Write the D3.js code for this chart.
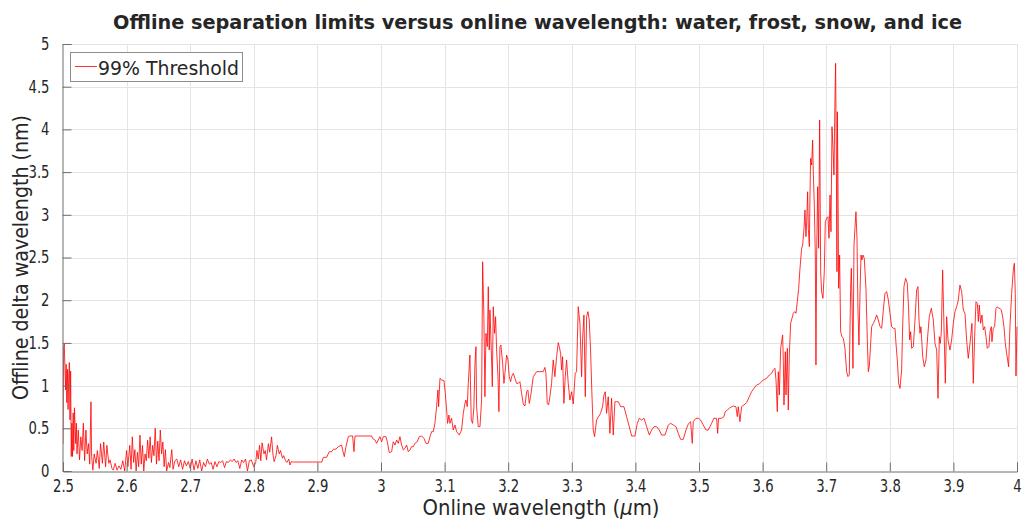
<!DOCTYPE html>
<html>
<head>
<meta charset="utf-8">
<script src="https://cdn.jsdelivr.net/npm/d3@7"></script>
<style>
  body { margin: 0; background: #fff; }
  text { font-family: "DejaVu Sans", Verdana, sans-serif; fill: #262626; }
</style>
</head>
<body>
<script>
var width = 1022,
    height = 521;

// online wavelength (um) / offline delta wavelength (nm)
var wavelength = [
  2.500, 2.501, 2.502, 2.503, 2.504, 2.505, 2.506, 2.507, 2.508, 2.509,
  2.510, 2.511, 2.512, 2.513, 2.514, 2.515, 2.516, 2.517, 2.518, 2.520,
  2.521, 2.522, 2.524, 2.526, 2.528, 2.530, 2.532, 2.534, 2.536, 2.538,
  2.540, 2.542, 2.544, 2.545, 2.547, 2.549, 2.552, 2.554, 2.557, 2.559,
  2.562, 2.564, 2.567, 2.569, 2.572, 2.574, 2.577, 2.579, 2.582, 2.585,
  2.588, 2.591, 2.594, 2.597, 2.600,
  2.602, 2.605, 2.607, 2.609, 2.611, 2.613, 2.615, 2.617, 2.619, 2.621,
  2.623, 2.625, 2.627, 2.629, 2.631, 2.633, 2.635, 2.637, 2.639, 2.641,
  2.643, 2.645, 2.647, 2.649, 2.651, 2.653, 2.655, 2.657, 2.659, 2.661,
  2.663, 2.666, 2.668, 2.671, 2.673, 2.676, 2.679, 2.682, 2.685, 2.688,
  2.691, 2.694, 2.697, 2.700,
  2.703, 2.706, 2.709, 2.712, 2.715, 2.718, 2.721, 2.724, 2.727, 2.730,
  2.733, 2.736, 2.739, 2.742, 2.745, 2.748, 2.751, 2.754, 2.757, 2.760,
  2.763, 2.766, 2.769, 2.772, 2.775, 2.778, 2.781, 2.784, 2.787, 2.790,
  2.793, 2.796,
  2.800, 2.803, 2.805, 2.807, 2.809, 2.811, 2.813, 2.816, 2.818, 2.820,
  2.823, 2.825, 2.828, 2.830, 2.832, 2.835, 2.837, 2.840, 2.842, 2.845,
  2.847, 2.850, 2.852, 2.855, 2.857, 2.859, 2.862, 2.8900, 2.9070,
  2.9093, 2.9145, 2.9187, 2.9224, 2.9250, 2.9292, 2.9329, 2.9381, 2.9397, 2.9423,
  2.9449, 2.9486, 2.9512, 2.9554, 2.9575, 2.9591, 2.9774, 2.9853, 2.9868, 2.9905,
  2.9931, 2.9957, 2.9984, 3.0010, 3.0036, 3.0078, 3.0099, 3.0130, 3.0167, 3.0193,
  3.0220, 3.0246, 3.0272, 3.0298, 3.0324, 3.0351, 3.0377, 3.0403, 3.0429, 3.0455,
  3.0481, 3.0508, 3.0534, 3.0570, 3.0602, 3.0639, 3.0675, 3.0707, 3.0743, 3.0770,
  3.0796, 3.0822, 3.0848, 3.0874, 3.0895, 3.0906, 3.0927, 3.0953, 3.0990, 3.1011,
  3.1032, 3.1047, 3.1068, 3.1084, 3.1110, 3.1136, 3.1163, 3.1189, 3.1231, 3.1267,
  3.1294, 3.1320, 3.1335, 3.1356, 3.1372, 3.1398, 3.1419, 3.1440, 3.1461, 3.1477,
  3.1493, 3.1503, 3.1529, 3.1556, 3.1582, 3.1598, 3.1618, 3.1634, 3.1650, 3.1671,
  3.1687, 3.1702, 3.1713, 3.1734, 3.1750, 3.1765, 3.1786, 3.1802, 3.1818, 3.1839,
  3.1854, 3.1870, 3.1886, 3.1912, 3.1933, 3.1949, 3.1975, 3.1996, 3.2017, 3.2038,
  3.2053, 3.2080, 3.2106, 3.2132, 3.2158, 3.2184, 3.2211, 3.2237, 3.2263, 3.2289,
  3.2310, 3.2331, 3.2352, 3.2394, 3.2446, 3.2551, 3.2577, 3.2593, 3.2614, 3.2635,
  3.2656, 3.2682, 3.2708, 3.2734, 3.2761, 3.2787, 3.2803, 3.2824, 3.2839, 3.2855,
  3.2876, 3.2897, 3.2918, 3.2944, 3.2970, 3.2997, 3.3023, 3.3054, 3.3075, 3.3101,
  3.3128, 3.3154, 3.3170, 3.3191, 3.3212, 3.3233, 3.3254, 3.3274, 3.3295, 3.3316,
  3.3337, 3.3358, 3.3390, 3.3421, 3.3452, 3.3484, 3.3505, 3.3526, 3.3547, 3.3573,
  3.3599, 3.3625, 3.3652, 3.3678, 3.3704,
  3.3731, 3.3768, 3.3820, 3.3862, 3.3904, 3.3941, 3.3993, 3.4030, 3.4061, 3.4098,
  3.4135, 3.4177, 3.4219, 3.4255, 3.4292, 3.4334, 3.4376, 3.4412, 3.4465, 3.4517,
  3.4554, 3.4596, 3.4638, 3.4674, 3.4711, 3.4753, 3.4795, 3.4832, 3.4868, 3.4894,
  3.4910, 3.4952, 3.4989, 3.5025, 3.5067, 3.5109, 3.5146, 3.5172, 3.5198, 3.5235,
  3.5277, 3.5293, 3.5308, 3.5356, 3.5392, 3.5413, 3.5445, 3.5476, 3.5513, 3.5539,
  3.5581, 3.5602, 3.5618, 3.5644, 3.5670, 3.5707, 3.5749, 3.5791, 3.5827, 3.5864,
  3.5906, 3.5948,
  3.6011, 3.6064, 3.6106, 3.6142, 3.6169, 3.6195, 3.6211, 3.6231, 3.6247, 3.6263,
  3.6284, 3.6315, 3.6326, 3.6336, 3.6357, 3.6368, 3.6389, 3.6404, 3.6420, 3.6441,
  3.6462, 3.6483, 3.6504, 3.6525, 3.6546, 3.6567, 3.6588, 3.6614, 3.6630, 3.6651,
  3.6666, 3.6682, 3.6693, 3.6708, 3.6719, 3.6735, 3.6745, 3.6755, 3.6771, 3.6787,
  3.6797, 3.6813, 3.6829, 3.6839, 3.6850, 3.6866, 3.6881, 3.6897, 3.6913, 3.6928,
  3.6949, 3.6970, 3.6986, 3.7007, 3.7028, 3.7044, 3.7060, 3.7075, 3.7091, 3.7107,
  3.7122, 3.7138, 3.7148, 3.7159, 3.7169, 3.7175, 3.7185, 3.7196, 3.7211, 3.7227,
  3.7248, 3.7269, 3.7295, 3.7321, 3.7342, 3.7363, 3.7384, 3.7395, 3.7410, 3.7421,
  3.7437, 3.7452, 3.7468, 3.7484, 3.7499, 3.7515, 3.7531, 3.7547, 3.7562, 3.7578,
  3.7599, 3.7625, 3.7646, 3.7662,
  3.7678, 3.7699, 3.7715, 3.7741, 3.7767, 3.7793, 3.7820, 3.7846, 3.7872, 3.7898,
  3.7924, 3.7951, 3.7977, 3.8003, 3.8029, 3.8055, 3.8082, 3.8097, 3.8118, 3.8139,
  3.8160, 3.8186, 3.8202, 3.8223, 3.8249, 3.8275, 3.8296, 3.8312, 3.8328, 3.8344,
  3.8370, 3.8396, 3.8422, 3.8443, 3.8459, 3.8475, 3.8490, 3.8517, 3.8543, 3.8569,
  3.8595, 3.8621, 3.8653, 3.8684, 3.8710, 3.8737, 3.8758, 3.8779, 3.8794, 3.8810,
  3.8831, 3.8852, 3.8873, 3.8894, 3.8915, 3.8946, 3.8972, 3.8999, 3.9025, 3.9051,
  3.9077, 3.9103, 3.9130, 3.9156, 3.9182, 3.9208, 3.9234, 3.9261, 3.9292, 3.9313,
  3.9334, 3.9355, 3.9376, 3.9392, 3.9407, 3.9428, 3.9449, 3.9470, 3.9491, 3.9512,
  3.9533, 3.9559, 3.9575, 3.9596, 3.9606, 3.9627, 3.9648, 3.9669, 3.9690, 3.9711,
  3.9732, 3.9753, 3.9774, 3.9795, 3.9816, 3.9837, 3.9853, 3.9868, 3.9889, 3.9916,
  3.9942, 3.9958, 3.9973, 3.9984, 4.0000
];

var offlineDelta = [
  0.32, 1.45, 1.49, 1.22, 0.95, 1.25, 0.80, 1.19, 0.72, 1.11,
  1.27, 0.60, 1.17, 0.17, 0.56, 0.17, 0.68, 0.24, 0.74, 0.32,
  0.56, 0.20, 0.48, 0.13, 0.40, 0.24, 0.56, 0.12, 0.48, 0.20,
  0.32, 0.08, 0.81, 0.17, 0.01, 0.20, 0.09, 0.24, 0.03, 0.32,
  0.09, 0.34, 0.05, 0.30, 0.09, 0.13, 0.03, 0.01, 0.09, 0.01,
  0.06, 0.02, 0.12, 0.00, 0.24,
  0.05, 0.30, 0.02, 0.40, 0.10, 0.25, 0.00, 0.22, 0.05, 0.42,
  0.08, 0.30, 0.00, 0.20, 0.12, 0.36, 0.15, 0.40, 0.10, 0.30,
  0.18, 0.50, 0.08, 0.35, 0.12, 0.48, 0.20, 0.34, 0.05, 0.25,
  0.00, 0.10, 0.04, 0.25, 0.02, 0.12, 0.14, 0.05, 0.13, 0.02,
  0.12, 0.06, 0.11, 0.03,
  0.14, 0.01, 0.12, 0.03, 0.13, 0.00, 0.10, 0.05, 0.14, 0.08,
  0.10, 0.02, 0.11, 0.05, 0.11, 0.10, 0.12, 0.04, 0.11, 0.10,
  0.13, 0.11, 0.14, 0.10, 0.12, 0.03, 0.13, 0.10, 0.14, 0.00,
  0.12, 0.13,
  0.05, 0.10, 0.24, 0.14, 0.30, 0.12, 0.33, 0.20, 0.24, 0.13,
  0.32, 0.22, 0.40, 0.20, 0.11, 0.18, 0.30, 0.20, 0.24, 0.15,
  0.18, 0.12, 0.10, 0.14, 0.07, 0.11, 0.105, 0.105, 0.105,
  0.160, 0.160, 0.226, 0.226, 0.253, 0.257, 0.285, 0.304, 0.246, 0.168,
  0.285, 0.402, 0.410, 0.410, 0.226, 0.410, 0.410, 0.410, 0.382, 0.363,
  0.324, 0.363, 0.402, 0.343, 0.402, 0.402, 0.343, 0.215, 0.226, 0.343,
  0.304, 0.363, 0.324, 0.402, 0.304, 0.246, 0.265, 0.304, 0.226, 0.246,
  0.285, 0.285, 0.324, 0.343, 0.402, 0.410, 0.382, 0.324, 0.324, 0.402,
  0.461, 0.461, 0.558, 0.753, 0.948, 0.753, 1.085, 1.066, 1.058, 0.909,
  0.714, 0.558, 0.656, 0.558, 0.617, 0.480, 0.538, 0.461, 0.421, 0.480,
  0.675, 0.792, 0.831, 0.753, 1.026, 1.358, 0.597, 0.558, 0.753, 1.241,
  1.456, 0.753, 0.519, 0.519, 0.831, 2.451, 1.807, 0.870, 1.612, 1.456,
  2.158, 1.417, 1.885, 1.417, 0.987, 1.924, 1.612, 1.807, 1.417, 1.104,
  0.695, 1.456, 1.475, 1.261, 1.026, 1.144, 1.358, 1.300, 1.104, 1.046,
  1.104, 1.144, 1.085, 1.026, 1.026, 1.046, 0.909, 0.785, 0.761, 0.928,
  0.948, 0.792, 0.870, 1.104, 1.163, 1.163, 1.213, 1.144, 0.792, 0.773,
  0.870, 1.026, 1.300, 1.104, 1.339, 1.503, 1.456, 1.378, 1.183, 1.339,
  0.792, 1.104, 1.300, 1.026, 0.831, 0.928, 0.785, 1.144, 1.163, 1.924,
  1.729, 1.104, 1.553, 1.827, 0.870, 1.807, 1.866, 1.768, 1.417, 0.909,
  0.480, 0.402, 0.597, 0.636, 0.675, 0.753, 0.889, 0.928, 0.675, 0.870,
  0.441, 0.851, 0.421, 0.811, 0.811,
  0.812, 0.753, 0.753, 0.636, 0.519, 0.410, 0.410, 0.558, 0.617, 0.597,
  0.617, 0.519, 0.421, 0.480, 0.519, 0.519, 0.480, 0.421, 0.421, 0.538,
  0.558, 0.538, 0.519, 0.441, 0.371, 0.371, 0.480, 0.550, 0.578, 0.324,
  0.578, 0.617, 0.617, 0.597, 0.538, 0.480, 0.480, 0.519, 0.558, 0.617,
  0.617, 0.441, 0.617, 0.617, 0.636, 0.695, 0.714, 0.734, 0.753, 0.761,
  0.753, 0.636, 0.753, 0.578, 0.753, 0.773, 0.800, 0.870, 0.929, 0.968,
  1.007, 1.019,
  1.066, 1.085, 1.124, 1.144, 1.183, 1.202, 1.066, 0.695, 1.163, 0.890,
  1.437, 1.593, 1.280, 0.773, 1.397, 0.890, 1.437, 0.714, 1.358, 1.729,
  1.788, 1.847, 1.866, 1.847, 1.983, 2.139, 2.373, 2.608, 2.646, 2.841,
  3.056, 2.744, 2.919, 3.270, 2.841, 2.627, 3.232, 3.661, 3.583, 3.876,
  3.505, 3.115, 2.529, 1.241, 2.529, 3.329, 2.608, 4.110, 2.334, 2.100,
  2.022, 2.334, 2.919, 2.959, 2.978, 2.725, 3.232, 2.802, 4.032, 3.779,
  3.466, 4.364, 4.774, 3.700, 2.334, 4.207, 3.466, 2.139, 2.529, 1.631,
  1.573, 1.554, 1.437, 1.163, 1.105, 1.124, 2.139, 2.373, 1.827, 1.202,
  2.646, 2.841, 3.036, 2.725, 1.905, 1.475, 2.061, 2.529, 2.471, 2.529,
  2.490, 2.139, 1.554, 1.163,
  1.221, 1.495, 1.690, 1.729, 1.768, 1.827, 1.768, 1.690, 1.671, 1.885,
  2.081, 2.100, 2.002, 1.846, 1.690, 1.671, 1.671, 1.495, 1.300, 1.027,
  0.968, 1.183, 1.690, 2.159, 2.256, 2.198, 1.885, 1.534, 1.631, 1.436,
  1.456, 1.768, 2.119, 2.159, 1.768, 1.612, 1.690, 1.339, 1.221, 1.300,
  1.573, 1.807, 1.905, 1.768, 1.495, 1.417, 0.851, 1.573, 1.495, 1.631,
  2.354, 1.690, 1.027, 1.807, 1.534, 1.417, 1.534, 1.729, 1.866, 1.924,
  2.002, 2.178, 2.100, 1.885, 1.846, 1.534, 1.319, 1.495, 1.729, 1.027,
  1.573, 1.983, 1.963, 1.749, 1.944, 1.729, 1.827, 1.651, 1.690, 1.573,
  1.436, 1.456, 1.631, 1.690, 1.514, 1.671, 1.690, 1.905, 1.924, 1.905,
  1.905, 1.885, 1.807, 1.690, 1.495, 1.378, 1.300, 1.221, 1.690, 2.081,
  2.354, 2.432, 2.081, 1.112, 1.690
];

var xTicks = [2.5, 2.6, 2.7, 2.8, 2.9, 3, 3.1, 3.2, 3.3, 3.4, 3.5, 3.6, 3.7, 3.8, 3.9, 4];
var yTicks = [0, 0.5, 1, 1.5, 2, 2.5, 3, 3.5, 4, 4.5, 5];
var seriesName = '99% Threshold';

var plotLeft = 63, plotRight = 1017, plotTop = 44, plotBottom = 471;

var x = d3.scaleLinear().domain([2.5, 4]).range([plotLeft, plotRight]);
var y = d3.scaleLinear().domain([0, 5]).range([plotBottom, plotTop]);

var svg = d3.select('body').append('svg')
    .attr('width', width)
    .attr('height', height);

// stretch/squeeze a text node to a given width
function fitWidth(node, w) {
    node.setAttribute('textLength', w);
    node.setAttribute('lengthAdjust', 'spacingAndGlyphs');
}

// grid
svg.append('g').selectAll('line')
    .data(xTicks.slice(1))
    .enter().append('line')
    .attr('x1', d => Math.round(x(d)) + 0.5).attr('x2', d => Math.round(x(d)) + 0.5)
    .attr('y1', plotTop).attr('y2', plotBottom)
    .attr('stroke', '#e4e4e4').attr('stroke-width', 1);

svg.append('g').selectAll('line')
    .data(yTicks.slice(1))
    .enter().append('line')
    .attr('y1', d => Math.round(y(d)) + 0.5).attr('y2', d => Math.round(y(d)) + 0.5)
    .attr('x1', plotLeft).attr('x2', plotRight)
    .attr('stroke', '#e4e4e4').attr('stroke-width', 1);

// data line
svg.append('defs').append('clipPath').attr('id', 'plotclip')
    .append('rect').attr('x', plotLeft).attr('y', plotTop - 2)
    .attr('width', plotRight - plotLeft + 1).attr('height', plotBottom - plotTop + 2);

var pts = wavelength.map((w, i) => [w, offlineDelta[i]]);
svg.append('path')
    .datum(pts)
    .attr('clip-path', 'url(#plotclip)')
    .attr('fill', 'none')
    .attr('stroke', '#ff0000')
    .attr('stroke-width', 0.8)
    .attr('stroke-linejoin', 'round')
    .attr('d', d3.line().x(d => x(d[0])).y(d => y(d[1])));

// axes
var xAxis = svg.append('g')
    .attr('transform', 'translate(0,' + (plotBottom + 0.5) + ')')
    .call(d3.axisBottom(x).tickValues(xTicks).tickSize(-9).tickPadding(17).tickFormat(d3.format('')));
var yAxis = svg.append('g')
    .attr('transform', 'translate(' + (plotLeft - 0.5) + ',0)')
    .call(d3.axisLeft(y).tickValues(yTicks).tickSize(-9).tickPadding(13).tickFormat(d3.format('')));

[xAxis, yAxis].forEach(function (a) {
    a.select('.domain').attr('stroke', '#6e6e6e');
    a.selectAll('.tick line').attr('stroke', '#6e6e6e');
    a.selectAll('text')
        .style('font-family', '"DejaVu Sans", sans-serif')
        .style('font-size', '17px')
        .attr('fill', '#262626');
});
xAxis.selectAll('text').attr('dy', '0.2em');

// squeeze tick labels like the reference
var probe = yAxis.selectAll('text').filter(d => d === 4.5).node();
var squeeze = 21 / probe.getComputedTextLength();
svg.selectAll('.tick text').each(function () {
    fitWidth(this, this.getComputedTextLength() * squeeze);
});

// title
var title = svg.append('text')
    .attr('x', 537.5).attr('y', 29)
    .attr('text-anchor', 'middle')
    .style('font-size', '20px')
    .style('font-weight', 'bold')
    .attr('fill', '#000')
    .text('Offline separation limits versus online wavelength:  water,  frost,  snow,  and ice');
fitWidth(title.node(), 849);

// axis labels
var xl = svg.append('text')
    .attr('x', 541).attr('y', 515)
    .attr('text-anchor', 'middle')
    .style('font-size', '21px')
    .attr('fill', '#262626');
xl.append('tspan').text('Online wavelength (');
xl.append('tspan').style('font-style', 'italic').text('\u03bc');
xl.append('tspan').text('m)');
fitWidth(xl.node(), 237);

var yl = svg.append('text')
    .attr('transform', 'translate(28,257.5) rotate(-90)')
    .attr('text-anchor', 'middle')
    .style('font-size', '21px')
    .attr('fill', '#262626')
    .text('Offline delta wavelength (nm)');
fitWidth(yl.node(), 285);

// legend
var lg = svg.append('g');
lg.append('rect')
    .attr('x', 70.5).attr('y', 52.5)
    .attr('width', 172).attr('height', 29)
    .attr('fill', '#fff').attr('stroke', '#8c8c8c').attr('stroke-width', 1);
lg.append('line')
    .attr('x1', 75).attr('x2', 97).attr('y1', 66.5).attr('y2', 66.5)
    .attr('stroke', '#ff0000').attr('stroke-width', 0.8);
var lt = lg.append('text')
    .attr('x', 98).attr('y', 74.5)
    .style('font-size', '19px')
    .attr('fill', '#000')
    .text(seriesName);
fitWidth(lt.node(), 141);
</script>
</body>
</html>
